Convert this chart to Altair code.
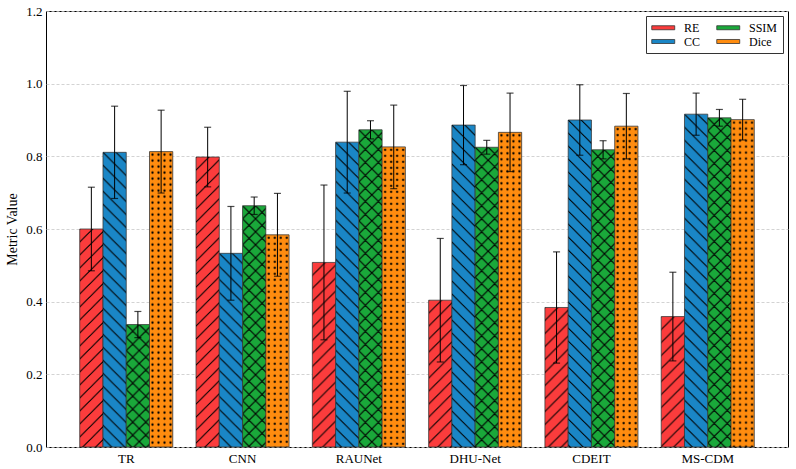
import base64

import altair as alt
import pandas as pd

# Reconstruction metrics per method: mean value and standard deviation
methods = ["TR", "CNN", "RAUNet", "DHU-Net", "CDEIT", "MS-CDM"]
metrics = ["RE", "CC", "SSIM", "Dice"]

re_mean = [0.600, 0.798, 0.508, 0.404, 0.384, 0.359]
re_std = [0.115, 0.082, 0.213, 0.170, 0.153, 0.122]
cc_mean = [0.811, 0.533, 0.839, 0.886, 0.900, 0.916]
cc_std = [0.127, 0.129, 0.140, 0.109, 0.097, 0.058]
ssim_mean = [0.337, 0.664, 0.873, 0.825, 0.818, 0.906]
ssim_std = [0.036, 0.024, 0.025, 0.019, 0.025, 0.023]
dice_mean = [0.813, 0.584, 0.826, 0.866, 0.883, 0.901]
dice_std = [0.114, 0.114, 0.115, 0.108, 0.090, 0.056]

means = {"RE": re_mean, "CC": cc_mean, "SSIM": ssim_mean, "Dice": dice_mean}
stds = {"RE": re_std, "CC": cc_std, "SSIM": ssim_std, "Dice": dice_std}

rows = []
for m in metrics:
    for i, name in enumerate(methods):
        rows.append({"Method": name, "Metric": m, "value": means[m][i], "std": stds[m][i]})
df = pd.DataFrame(rows)

# --- styling -------------------------------------------------------------
FONT = "Liberation Serif"
W, H = 742, 436
colors = {"RE": "#fb3c3c", "CC": "#1a86c6", "SSIM": "#1aa83a", "Dice": "#ff8c0f"}
BAR_W = W / (len(methods) - 0.2 + 2 * 0.29) * 0.8 / 4


def hatch_uri(kind, p=13.0):
    """Transparent SVG tile filled with a matplotlib-like hatch pattern."""
    if kind == "fwd":
        body = (f'<path d="M0,{p} L{p},0 M-1,1 L1,-1 M{p-1},{p+1} L{p+1},{p-1}" '
                'stroke="black" stroke-width="1" fill="none"/>')
        size = (p, p)
    elif kind == "back":
        body = (f'<path d="M0,0 L{p},{p} M-1,{p-1} L1,{p+1} M{p-1},-1 L{p+1},1" '
                'stroke="black" stroke-width="1" fill="none"/>')
        size = (p, p)
    elif kind == "cross":
        body = (f'<path d="M0,{p} L{p},0 M-1,1 L1,-1 M{p-1},{p+1} L{p+1},{p-1} '
                f'M0,0 L{p},{p} M-1,{p-1} L1,{p+1} M{p-1},-1 L{p+1},1" '
                'stroke="black" stroke-width="1.1" fill="none"/>')
        size = (p, p)
    else:
        s = 6.0
        body = (f'<circle cx="{s/2}" cy="{s/2}" r="1.15" fill="black"/>'
                f'<circle cx="{s/2}" cy="{s*1.5}" r="1.15" fill="black"/>')
        size = (s, 2 * s)
    svg = (
        f'<svg xmlns="http://www.w3.org/2000/svg" width="{BAR_W:.3f}" height="{H}">'
        f'<defs><pattern id="h" patternUnits="userSpaceOnUse" width="{size[0]}" height="{size[1]}">'
        f'{body}</pattern></defs>'
        f'<rect x="0" y="0" width="{BAR_W:.3f}" height="{H}" fill="url(#h)"/></svg>'
    )
    return "data:image/svg+xml;base64," + base64.b64encode(svg.encode()).decode()


hatch_kind = {"RE": "fwd", "CC": "back", "SSIM": "cross", "Dice": "dots"}
df["hatch"] = df["Metric"].map(lambda m: hatch_uri(hatch_kind[m]))

x_enc = alt.X(
    "Method:N",
    sort=methods,
    title=None,
    scale=alt.Scale(paddingInner=0.2, paddingOuter=0.29),
    axis=alt.Axis(labelAngle=0, labelPadding=5),
)
xoff_enc = alt.XOffset("Metric:N", sort=metrics,
                       scale=alt.Scale(domain=metrics, paddingInner=0, paddingOuter=0))
y_scale = alt.Scale(domain=[0, 1.2], nice=False)

base = alt.Chart(df).encode(x=x_enc, xOffset=xoff_enc)

bars = base.mark_bar(stroke="#3a3a3a", strokeWidth=0.8).encode(
    y=alt.Y(
        "value:Q",
        scale=y_scale,
        title="Metric Value",
        axis=alt.Axis(
            values=[0, 0.2, 0.4, 0.6, 0.8, 1.0, 1.2],
            format=".1f",
            titlePadding=6,
            labelPadding=4,
            grid=True,
            gridColor="#c8c8c8",
            gridDash=[3, 2],
            gridWidth=0.8,
        ),
    ),
    color=alt.Color(
        "Metric:N",
        scale=alt.Scale(domain=metrics,
                        range=[colors[m] for m in metrics]),
        legend=alt.Legend(
            title=None,
            values=metrics,
            orient="none",
            legendX=600,
            legendY=5,
            columns=2,
            columnPadding=14,
            rowPadding=1,
            padding=5,
            strokeColor="#333333",
            fillColor="white",
            symbolType="M-1,-0.35H3V0.35H-1Z",
            symbolSize=132,
            symbolStrokeColor="#333333",
            symbolStrokeWidth=0.8,
            symbolOpacity=1,
            labelOffset=20,
            labelFont=FONT,
            labelFontSize=12,
            labelColor="black",
        ),
    ),
)

hatches = base.mark_image(
    width=BAR_W, height=H, align="center", baseline="top", aspect=False, clip=True
).encode(
    y=alt.Y("value:Q", scale=y_scale),
    url=alt.Url("hatch:N"),
)

err = base.transform_calculate(
    lo="datum.value - datum.std", hi="datum.value + datum.std"
)
err_rule = err.mark_rule(color="black", strokeWidth=1).encode(
    y=alt.Y("lo:Q", scale=y_scale), y2="hi:Q"
)
cap_lo = err.mark_tick(color="black", size=7, thickness=1.2).encode(
    y=alt.Y("lo:Q", scale=y_scale)
)
cap_hi = err.mark_tick(color="black", size=7, thickness=1.2).encode(
    y=alt.Y("hi:Q", scale=y_scale)
)

chart = (
    alt.layer(bars, hatches, err_rule, cap_lo, cap_hi)
    .properties(
        width=W,
        height=H,
        autosize=alt.AutoSizeParams(type="none"),
        padding={"left": 46, "top": 11, "right": 8, "bottom": 22},
        background="white",
    )
    .configure_view(stroke="black", strokeWidth=1)
    .configure_tick(orient="horizontal")
    .configure_axis(
        labelFont=FONT,
        labelFontSize=13,
        labelColor="black",
        titleFont=FONT,
        titleFontSize=14,
        titleFontWeight="normal",
        titleColor="black",
        ticks=False,
        domain=False,
    )
    .configure_axisX(grid=False)
)

chart.save("out.html", embed_options={"renderer": "svg", "actions": False})
